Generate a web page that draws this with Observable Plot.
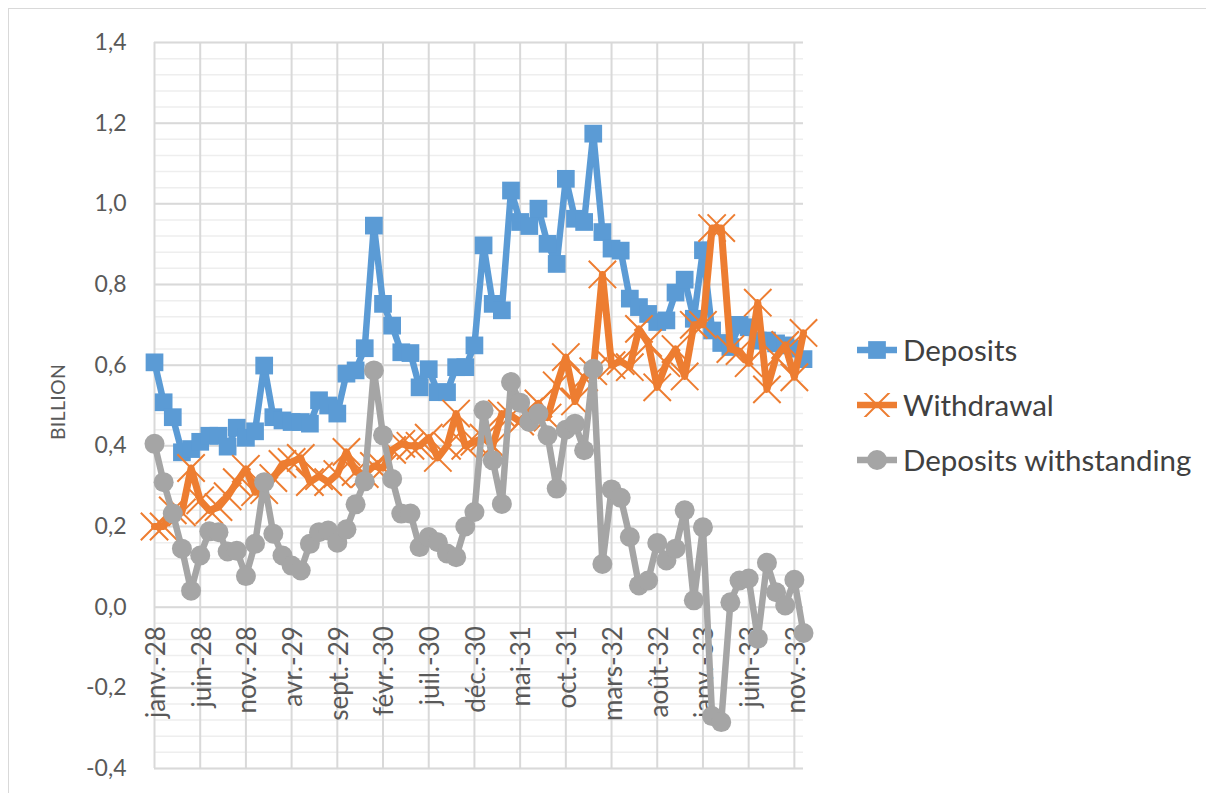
<!DOCTYPE html>
<html>
<head>
<meta charset="utf-8">
<script src="https://cdn.jsdelivr.net/npm/d3@7"></script>
<script src="https://cdn.jsdelivr.net/npm/@observablehq/plot@0.6"></script>
<style>
  html, body { margin: 0; padding: 0; background: #fff; }
  #wrap { position: relative; width: 1206px; height: 793px; overflow: hidden; font-family: Lato, "Open Sans", sans-serif; }
  #frame { position: absolute; left: 8px; top: 8px; width: 1210px; height: 800px; border: 1px solid #D9D9D9; box-sizing: border-box; }
  #chart { position: absolute; left: 0; top: 0; }
  #ytitle { position: absolute; left: 57px; top: 402px; transform: translate(-50%, -50%) rotate(-90deg); font-size: 19.5px; color: #595959; white-space: nowrap; letter-spacing: 0.3px; }
  #legend { position: absolute; left: 856px; top: 322px; }
  .item { display: flex; align-items: center; height: 55px; font-size: 29.5px; color: #404040; }
  .item svg { margin-right: 5px; }
</style>
</head>
<body>
<div id="wrap">
  <div id="frame"></div>
  <div id="chart"></div>
  <div id="ytitle">BILLION</div>
  <div id="legend"></div>
</div>
<script>
// ---- data ----
const monthNames = ["janv.", "févr.", "mars", "avr.", "mai", "juin", "juil.", "août", "sept.", "oct.", "nov.", "déc."];
const years = ["28", "29", "30", "31", "32", "33"];

const deposits = [
  0.607, 0.508, 0.471, 0.384, 0.392, 0.410, 0.425, 0.425, 0.398, 0.445, 0.420, 0.436,
  0.599, 0.471, 0.463, 0.459, 0.459, 0.455, 0.513, 0.500, 0.480, 0.579, 0.587, 0.642,
  0.946, 0.752, 0.698, 0.632, 0.630, 0.545, 0.590, 0.533, 0.533, 0.595, 0.595, 0.649,
  0.897, 0.752, 0.736, 1.033, 0.955, 0.945, 0.988, 0.901, 0.851, 1.062, 0.963, 0.955,
  1.174, 0.930, 0.889, 0.884, 0.765, 0.744, 0.727, 0.707, 0.711, 0.780, 0.812, 0.715,
  0.885, 0.686, 0.655, 0.645, 0.700, 0.694, 0.661, 0.661, 0.654, 0.649, 0.641, 0.615
];
const withdrawal = [
  0.200, 0.200, 0.240, 0.235, 0.345, 0.265, 0.240, 0.248, 0.275, 0.310, 0.343, 0.285,
  0.290, 0.320, 0.355, 0.360, 0.370, 0.310, 0.325, 0.310, 0.330, 0.385, 0.335, 0.330,
  0.350, 0.345, 0.390, 0.405, 0.400, 0.400, 0.420, 0.370, 0.400, 0.480, 0.400, 0.410,
  0.420, 0.400, 0.480, 0.475, 0.460, 0.485, 0.505, 0.470, 0.550, 0.620, 0.510, 0.570,
  0.585, 0.825, 0.600, 0.610, 0.595, 0.690, 0.655, 0.545, 0.605, 0.640, 0.572, 0.700,
  0.700, 0.940, 0.940, 0.640, 0.635, 0.605, 0.755, 0.540, 0.620, 0.650, 0.570, 0.680
];
const withstanding = [
  0.405, 0.310, 0.232, 0.145, 0.041, 0.128, 0.188, 0.186, 0.138, 0.140, 0.077, 0.157,
  0.310, 0.182, 0.128, 0.103, 0.091, 0.157, 0.186, 0.190, 0.160, 0.193, 0.255, 0.312,
  0.587, 0.426, 0.318, 0.232, 0.232, 0.149, 0.174, 0.161, 0.133, 0.124, 0.200, 0.236,
  0.488, 0.364, 0.256, 0.558, 0.507, 0.459, 0.480, 0.426, 0.294, 0.440, 0.455, 0.389,
  0.591, 0.107, 0.292, 0.271, 0.174, 0.054, 0.066, 0.159, 0.116, 0.145, 0.240, 0.017,
  0.198, -0.270, -0.285, 0.012, 0.066, 0.071, -0.078, 0.110, 0.037, 0.004, 0.068, -0.064
];
const yTicks = [-0.4, -0.2, 0.0, 0.2, 0.4, 0.6, 0.8, 1.0, 1.2, 1.4];
const xTickEvery = 5;

const seriesNames = ["Deposits", "Withdrawal", "Deposits withstanding"];
const colors = ["#5B9BD5", "#ED7D31", "#A5A5A5"];

// ---- build ----
const categories = [];
years.forEach(y => monthNames.forEach(m => categories.push(m + "-" + y)));
const rows = deposits.map((d, i) => ({i, cat: categories[i], dep: d, wd: withdrawal[i], ws: withstanding[i]}));
const xTicks = rows.filter(r => r.i % xTickEvery === 0);
const minorTicks = d3.range(-0.4, 1.4001, 0.04).map(v => Math.round(v * 100) / 100);
const fmt = v => (Math.abs(v) < 1e-9 ? 0 : v).toFixed(1).replace(".", ",");

const chart = Plot.plot({
  width: 1206,
  height: 793,
  marginLeft: 154,
  marginRight: 403,
  marginTop: 42,
  marginBottom: 25,
  style: {fontFamily: "Lato, 'Open Sans', sans-serif", background: "transparent", overflow: "visible"},
  x: {type: "linear", domain: [0, categories.length - 1], axis: null},
  y: {domain: [-0.4, 1.4], axis: null},
  marks: [
    Plot.ruleY(minorTicks, {stroke: "#EEEEEE", strokeWidth: 1.5}),
    Plot.ruleY(yTicks, {stroke: "#D9D9D9", strokeWidth: 2}),
    Plot.ruleX(xTicks, {x: "i", stroke: "#D9D9D9", strokeWidth: 2}),
    Plot.axisY(yTicks, {tickSize: 0, tickPadding: 28, tickFormat: fmt, fontSize: 23, color: "#595959", label: null}),
    Plot.text(xTicks, {x: "i", y: () => 0, text: "cat", rotate: -90, textAnchor: "end", dy: 19, dx: 2, fontSize: 26, fill: "#595959"}),
    Plot.line(rows, {x: "i", y: "dep", stroke: colors[0], strokeWidth: 6.5, strokeLinejoin: "round", strokeLinecap: "round"}),
    Plot.dot(rows, {x: "i", y: "dep", symbol: "square", r: 10, fill: colors[0]}),
    Plot.line(rows, {x: "i", y: "wd", stroke: colors[1], strokeWidth: 7, strokeLinejoin: "round", strokeLinecap: "round"}),
    Plot.dot(rows, {x: "i", y: "wd", symbol: "times", r: 12.5, stroke: colors[1], strokeWidth: 2}),
    Plot.line(rows, {x: "i", y: "ws", stroke: colors[2], strokeWidth: 6.5, strokeLinejoin: "round", strokeLinecap: "round"}),
    Plot.dot(rows, {x: "i", y: "ws", r: 10, fill: colors[2]})
  ]
});
document.getElementById("chart").appendChild(chart);

// legend
const legend = document.getElementById("legend");
const symbols = ["square", "times", "circle"];
seriesNames.forEach((name, k) => {
  const item = document.createElement("div");
  item.className = "item";
  const ns = "http://www.w3.org/2000/svg";
  const svg = document.createElementNS(ns, "svg");
  svg.setAttribute("width", 42); svg.setAttribute("height", 24);
  const ln = document.createElementNS(ns, "line");
  ln.setAttribute("x1", 1); ln.setAttribute("x2", 41); ln.setAttribute("y1", 12); ln.setAttribute("y2", 12);
  ln.setAttribute("stroke", colors[k]); ln.setAttribute("stroke-width", 6.5);
  svg.appendChild(ln);
  const sym = document.createElementNS(ns, "path");
  const size = symbols[k] === "times" ? Math.PI * 12.5 * 12.5 : Math.PI * 100;
  const type = {square: d3.symbolSquare, times: d3.symbolTimes, circle: d3.symbolCircle}[symbols[k]];
  sym.setAttribute("d", d3.symbol(type, size)());
  sym.setAttribute("transform", "translate(21,12)");
  if (symbols[k] === "times") { sym.setAttribute("stroke", colors[k]); sym.setAttribute("stroke-width", 2); sym.setAttribute("fill", "none"); }
  else sym.setAttribute("fill", colors[k]);
  svg.appendChild(sym);
  item.appendChild(svg);
  const t = document.createElement("span");
  t.textContent = name;
  item.appendChild(t);
  legend.appendChild(item);
});
</script>
</body>
</html>
